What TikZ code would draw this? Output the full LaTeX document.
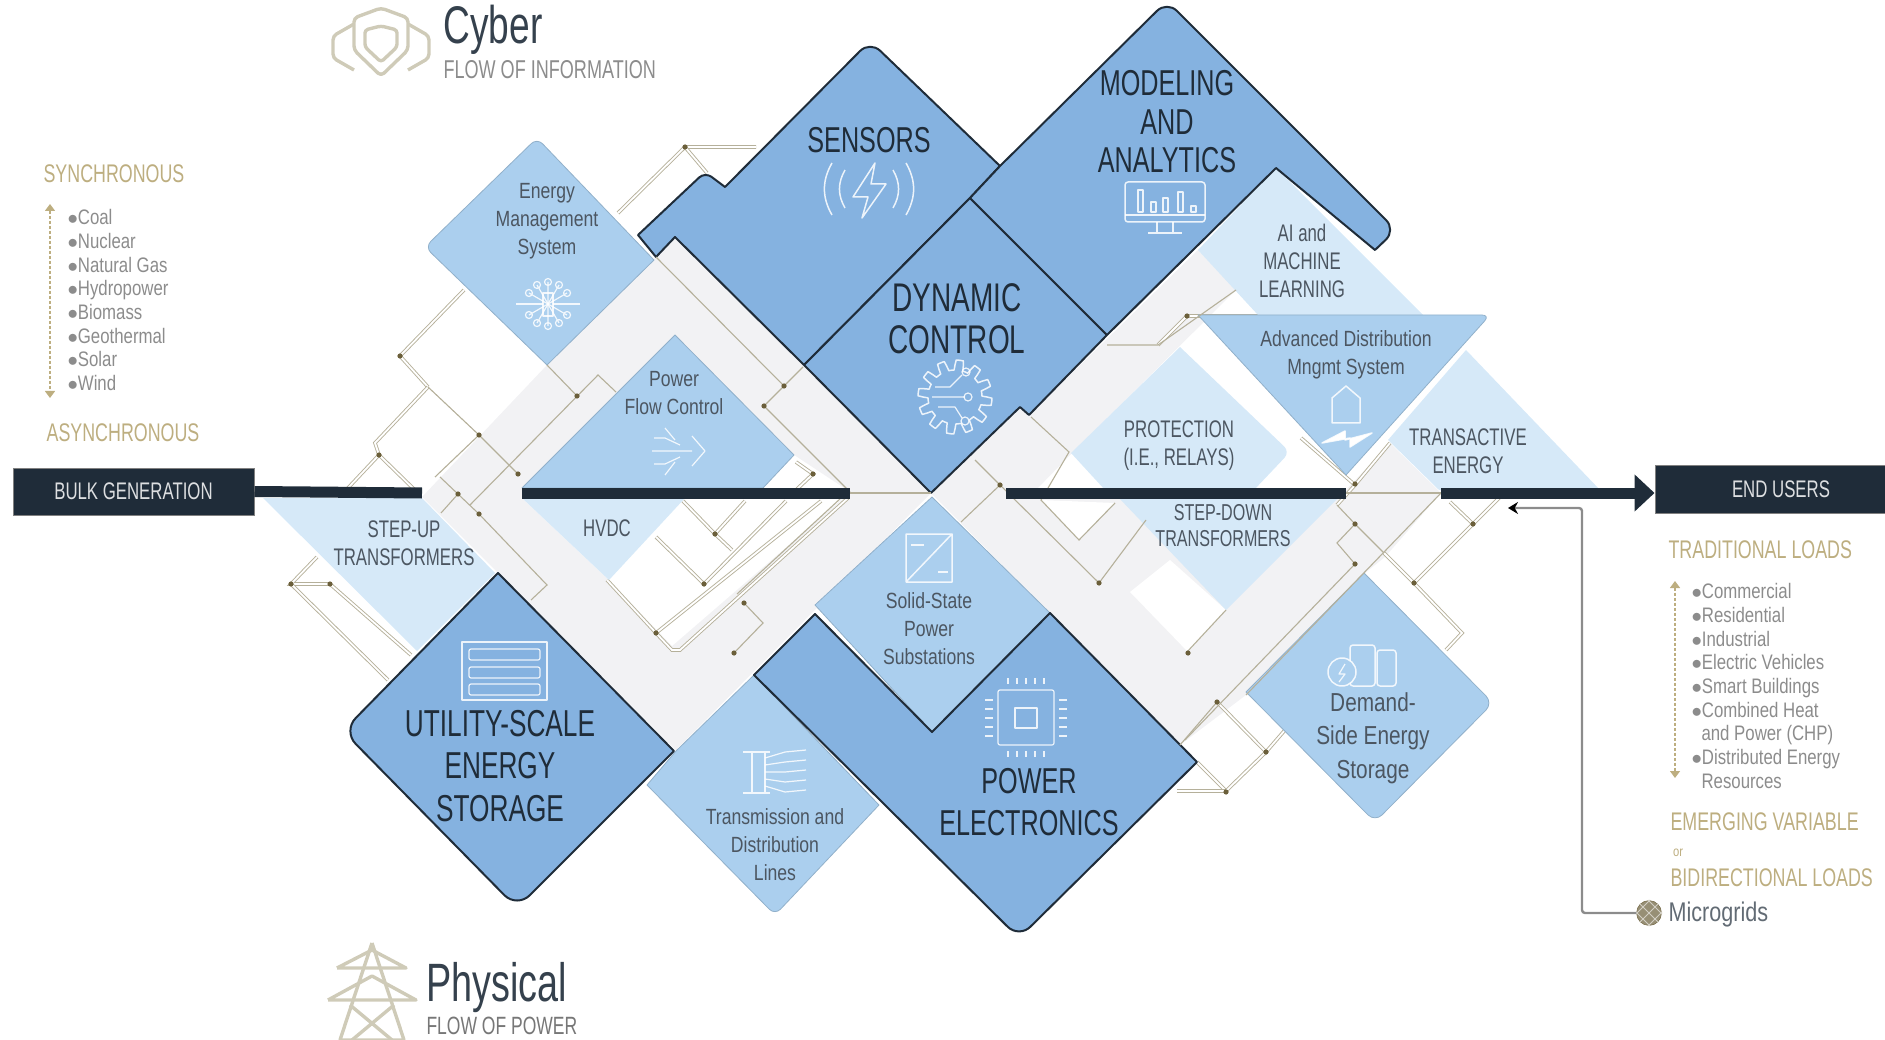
\documentclass[tikz,border=0pt]{standalone}
\usepackage{fontspec}
\setmainfont[FakeStretch=0.8]{Liberation Sans}
\newfontfamily\capfont[FakeStretch=0.7]{Liberation Sans}
\usetikzlibrary{arrows.meta}
\definecolor{boxdark}{HTML}{85B2E0}
\definecolor{boxmid}{HTML}{ABCFEE}
\definecolor{boxlight}{HTML}{D6E9F8}
\definecolor{band}{HTML}{F2F2F4}
\definecolor{navy}{HTML}{1F2C39}
\definecolor{wiretan}{HTML}{B5B09A}
\definecolor{dotbrown}{HTML}{6B5F3A}
\definecolor{goldtxt}{HTML}{BDAE80}
\definecolor{greytxt}{HTML}{8C8C8C}
\definecolor{icontan}{HTML}{CFCBB8}
\tikzset{
	darkbox/.style={fill=boxdark, draw=navy, line width=2, line join=round},
	midbox/.style={fill=boxmid, draw=boxmid!85!black, line width=.8, line join=round},
	lightbox/.style={fill=boxlight, draw=none},
	wire/.style={draw=wiretan, line width=1.1},
	wireout/.style={draw=wiretan, double=white, double distance=1.8, line width=.9},
	iconline/.style={draw=white, draw opacity=.85, line width=1.5, line join=round, fill=none},
	icontanline/.style={draw=icontan, line width=3.4, line join=round, fill=none},
	bigtxt/.style={text=navy, align=center, font=\capfont\fontsize{36}{42}\selectfont},
	midtxt/.style={text=navy!80, align=center, font=\fontsize{22}{28}\selectfont},
	captxt/.style={text=navy!80, align=center, font=\capfont\fontsize{24}{28}\selectfont},
	goldhead/.style={text=goldtxt, font=\capfont\fontsize{25.5}{30}\selectfont},
	listtxt/.style={text=greytxt, align=left, anchor=north west, font=\fontsize{21}{23.7}\selectfont},
	blackbox/.style={fill=navy, draw=gray, line width=1, text=white!85!navy, font=\capfont\fontsize{24}{28}\selectfont}
}
\begin{document}
\begin{tikzpicture}[x=1pt,y=-1pt]
	\useasboundingbox (0,0) rectangle (1885,1040);
	% grey bands
	\fill[band] (675,237) -- (931,493) -- (676,750) -- (498,573) -- (422,497) -- (547,365) -- (656,257) -- cycle;
	\fill[white] (675,335) -- (794,455) -- (850,492) -- (672,646) -- (609,580) -- (522,498) -- cycle;
	\fill[band] (931,493) -- (1020,407) -- (1029,415) -- (1198,250) -- (1236,290) -- (1072,453) -- (1036,490) -- (1346,490) -- (1390,443) -- (1441,493) -- (1385,557) -- (1365,573) -- (1246,695) -- (1180,745) -- (1050,613) -- cycle;
	\fill[white] (1041,500) -- (1115,503) -- (1079,540) -- cycle;
	\fill[white] (1170,560) -- (1226,610) -- (1188,652) -- (1130,592) -- cycle;
	% double wires outside the bands
	\draw[wireout] (464,290) -- (400,356) -- (428,387);
	\draw[wireout] (428,387) -- (375,443) -- (379,455) -- (348,488);
	\draw[wireout] (379,455) -- (420,495);
	\draw[wireout] (317,557) -- (291,584) -- (330,584) -- (411,655);
	\draw[wireout] (291,584) -- (388,680);
	\draw[wireout] (618,213) -- (685,147) -- (756,147);
	\draw[wireout] (685,147) -- (707,173);
	\draw[wireout] (683,501) -- (715,534) -- (745,501);
	\draw[wireout] (715,534) -- (732,550);
	\draw[wireout] (656,537) -- (704,584) -- (786,501);
	\draw[wireout] (607,580) -- (656,633) -- (821,501);
	\draw[wireout] (656,633) -- (672,650) -- (680,650) -- (848,498);
	\draw[wireout] (796,462) -- (813,474) -- (796,490);
	\draw[wireout] (1158,345) -- (1187,316) -- (1258,316);
	\draw[wireout] (1355,485) -- (1390,443);
	\draw[wireout] (1337,505) -- (1355,485) -- (1301,438);
	\draw[wireout] (1384,553) -- (1414,583) -- (1462,633) -- (1446,650);
	\draw[wireout] (1414,583) -- (1473,524) -- (1500,497);
	\draw[wireout] (1473,524) -- (1450,502);
	\draw[wireout] (1217,702) -- (1266,752) -- (1285,730);
	\draw[wireout] (1266,752) -- (1226,791) -- (1197,762);
	\draw[wireout] (1226,791) -- (1177,791);
	% pale shapes
	\fill[lightbox] (1276,168) -- (1423,315) -- (1258,315) -- (1198,250) -- cycle;
	\fill[lightbox] (1466,350) -- (1600,490) -- (1439,490) -- (1388,440) -- cycle;
	\fill[lightbox] (1180,347) [rounded corners=8] -- (1290,452) [sharp corners] -- (1254,490) -- (1105,490) -- (1071,453) -- cycle;
	\fill[lightbox] (1119,498) -- (1338,498) -- (1226,610) -- cycle;
	\fill[lightbox] (522,498) -- (685,498) -- (609,580) -- cycle;
	\fill[lightbox] (263,498) -- (422,498) -- (495,573) -- (417,651) -- cycle;
	% middle shapes
	\draw[midbox] (654,260) -- (547,365) [rounded corners=8] -- (425,247) -- (537,138) [sharp corners] -- cycle;
	\draw[midbox] (675,335) -- (794,455) -- (763,488) -- (522,488) -- cycle;
	\draw[midbox] (932,497) -- (1050,613) -- (932,732) -- (815,605) -- cycle;
	\draw[midbox] (754,675) -- (879,805) [rounded corners=8] -- (775,915) [sharp corners] -- (647,785) -- (676,751) -- cycle;
	\draw[midbox] (1364,573) [rounded corners=10] -- (1493,703) -- (1375,822) [sharp corners] -- (1246,692) -- cycle;
	\draw[midbox] (1198,315) [rounded corners=8] -- (1490,315) [sharp corners] -- (1346,475) -- cycle;
	% dark shapes
	\draw[darkbox] (1000,166) -- (970,198) -- (804,365) -- (675,237) -- (656,257) -- (638,235) [rounded corners=8] -- (705,172) [sharp corners] -- (725,187) [rounded corners=14] -- (870,41) [sharp corners] -- cycle;
	\draw[darkbox] (970,198) -- (1107,335) -- (1029,415) -- (1020,407) -- (931,493) -- (804,365) -- cycle;
	\draw[darkbox] (970,198) -- (1000,166) [rounded corners=14] -- (1167,1) -- (1396,230) [sharp corners] -- (1375,250) -- (1276,168) -- (1107,335) -- cycle;
	\draw[darkbox] (498,573) -- (674,751) [rounded corners=18] -- (517,908) -- (343,731) [sharp corners] -- cycle;
	\draw[darkbox] (754,675) -- (815,614) -- (932,732) -- (1050,613) -- (1197,762) [rounded corners=16] -- (1019,938) [sharp corners] -- cycle;
	% thin wires on the bands
	\draw[wire] (547,365) -- (577,396);
	\draw[wire] (479,435) -- (518,474);
	\draw[wire] (479,435) -- (435,477);
	\draw[wire] (428,387) -- (479,435);
	\draw[wire] (616,392) -- (598,375) -- (470,505);
	\draw[wire] (440,477) -- (479,514) -- (547,585) -- (531,600);
	\draw[wire] (458,494) -- (441,513);
	\draw[wire] (656,257) -- (784,386) -- (803,367);
	\draw[wire] (784,386) -- (764,406) -- (850,492);
	\draw[wire] (850,493) -- (931,493);
	\draw[wire] (841,498) -- (737,594);
	\draw[wire] (744,603) -- (763,623) -- (734,653);
	\draw[wire] (961,522) -- (1000,485) -- (975,460);
	\draw[wire] (1000,485) -- (1099,583) -- (1146,520);
	\draw[wire] (1031,417) -- (1069,452) -- (1041,500) -- (1079,540) -- (1115,503);
	\draw[wire] (1107,345) -- (1158,345) -- (1236,290);
	\draw[wire] (1187,652) -- (1226,610);
	\draw[wire] (1346,493) -- (1441,493);
	\draw[wire] (1337,505) -- (1355,524) -- (1384,553);
	\draw[wire] (1355,524) -- (1337,543) -- (1355,564) -- (1185,740);
	\draw[wire] (1217,702) -- (1180,745);
	\draw[wire] (1441,493) -- (1246,695);
	% power flow bar
	\node[blackbox, minimum width=241, minimum height=47] (bulk) at (133.5,491.5) {BULK GENERATION};
	\node[blackbox, minimum width=252, minimum height=48] (endusers) at (1781,489) {END USERS};
	\coordinate (barone) at (422,493);
	\coordinate (bartwo) at (522,493);
	\coordinate (barthree) at (850,493);
	\coordinate (barfour) at (1006,493);
	\coordinate (barfive) at (1346,493);
	\coordinate (barsix) at (1441,493);
	\draw[navy, line width=11] (bulk.east) -- (barone);
	\draw[navy, line width=11] (bartwo) -- (barthree);
	\draw[navy, line width=11] (barfour) -- (barfive);
	\draw[navy, line width=11, -{Triangle[length=20,width=36]}] (barsix) -- (endusers.west |- barsix);
	% dots
	\foreach \x/\y in {400/356,479/435,577/396,518/474,458/494,479/514,379/455,685/147,784/386,764/406,813/474,1000/485,1187/316,291/584,330/584,715/534,704/584,744/603,734/653,656/633,1099/583,1188/653,1355/524,1355/564,1355/484,1473/524,1414/583,1217/702,1266/752,1226/792}
		\fill[dotbrown] (\x,\y) circle (2.6);
	% labels in the boxes
	\node[midtxt] (ems) at (547,221) {Energy\\Management\\System};
	\node[midtxt] (flowctrl) at (674,393) {Power\\Flow Control};
	\node[bigtxt] (sensors) at (869,140) {SENSORS};
	\node[bigtxt, font=\capfont\fontsize{36}{38.5}\selectfont] (modeling) at (1167,122) {MODELING\\AND\\ANALYTICS};
	\node[bigtxt, font=\capfont\fontsize{40}{42}\selectfont] (dynamic) at (957,319) {DYNAMIC\\CONTROL};
	\node[midtxt, font=\capfont\fontsize{24}{28}\selectfont] (aiml) at (1302,261) {AI and\\MACHINE\\LEARNING};
	\node[midtxt] (adms) at (1346,354.5) {Advanced Distribution\\Mngmt System};
	\node[captxt] (protect) at (1179,446) {PROTECTION\\(I.E., RELAYS)};
	\node[captxt] (transact) at (1468,451) {TRANSACTIVE\\ENERGY};
	\node[captxt, font=\capfont\fontsize{23}{26}\selectfont] (stepdown) at (1223,526) {STEP-DOWN\\TRANSFORMERS};
	\node[midtxt] (solid) at (929,629) {Solid-State\\Power\\Substations};
	\node[captxt] (stepup) at (404,543) {STEP-UP\\TRANSFORMERS};
	\node[captxt] (hvdc) at (607,528) {HVDC};
	\node[bigtxt, font=\capfont\fontsize{37.5}{42.5}\selectfont] (utility) at (500,766) {UTILITY-SCALE\\ENERGY\\STORAGE};
	\node[midtxt] (lines) at (775,845) {Transmission and\\Distribution\\Lines};
	\node[bigtxt] (powerel) at (1029,802) {POWER\\ELECTRONICS};
	\node[midtxt, font=\fontsize{26}{33.5}\selectfont] (demand) at (1373,738) {Demand-\\Side Energy\\Storage};
	% titles
	\node[anchor=west, text=navy!90, font=\capfont\fontsize{53}{56}\selectfont] (cyber) at (440,30) {Cyber};
	\node[anchor=west, text=greytxt, font=\capfont\fontsize{25.8}{30}\selectfont] (flowinfo) at (440,70) {FLOW OF INFORMATION};
	\node[anchor=west, text=navy!90, font=\capfont\fontsize{54}{58}\selectfont] (physical) at (423,988) {Physical};
	\node[anchor=west, text=greytxt!85!black, font=\capfont\fontsize{25}{30}\selectfont] (flowpower) at (423,1026) {FLOW OF POWER};
	% left list
	\node[goldhead] (sync) at (114,174) {SYNCHRONOUS};
	\node[goldhead] (async) at (123,433) {ASYNCHRONOUS};
	\node[listtxt] (genlist) at (64,206) {$\bullet$Coal\\$\bullet$Nuclear\\$\bullet$Natural Gas\\$\bullet$Hydropower\\$\bullet$Biomass\\$\bullet$Geothermal\\$\bullet$Solar\\$\bullet$Wind};
	\coordinate (genup) at (50,204);
	\coordinate (gendown) at (50,398);
	\draw[goldtxt, densely dashed, line width=1.4, {Triangle[length=7,width=10]}-{Triangle[length=7,width=10]}] (genup) -- (gendown);
	% right list
	\node[goldhead, anchor=west] (tradloads) at (1665,550) {TRADITIONAL LOADS};
	\node[listtxt] (loadlist) at (1688,580) {$\bullet$Commercial\\$\bullet$Residential\\$\bullet$Industrial\\$\bullet$Electric Vehicles\\$\bullet$Smart Buildings\\$\bullet$Combined Heat\\\hspace*{10pt}and Power (CHP)\\$\bullet$Distributed Energy\\\hspace*{10pt}Resources};
	\coordinate (loadup) at (1675,581);
	\coordinate (loaddown) at (1675,778);
	\draw[goldtxt, densely dashed, line width=1.4, {Triangle[length=7,width=10]}-{Triangle[length=7,width=10]}] (loadup) -- (loaddown);
	\node[goldhead, anchor=west] (emerging) at (1667,822) {EMERGING VARIABLE};
	\node[text=goldtxt, font=\fontsize{14}{16}\selectfont] (ortxt) at (1678,853) {or};
	\node[goldhead, anchor=west] (bidir) at (1667,878) {BIDIRECTIONAL LOADS};
	\node[circle, fill=dotbrown!70, draw=dotbrown, minimum size=25, inner sep=0] (mgicon) at (1649,913) {};
	\draw[white!70!dotbrown, line width=1] (1640,904) -- (1658,922) (1636,912) -- (1650,926) (1648,900) -- (1662,914) (1640,922) -- (1658,904) (1636,914) -- (1650,900) (1648,926) -- (1662,912);
	\node[anchor=west, text=navy!70, font=\fontsize{27}{30}\selectfont] (mgtxt) at (1665,915) {Microgrids};
	\coordinate (mgcorner) at (1582,913);
	\coordinate (mgtop) at (1582,508);
	\coordinate (mgend) at (1508,508);
	\draw[greytxt, line width=2.4, -{Stealth[length=10,width=12,black]}, rounded corners=3] (mgicon.west) -- (mgcorner) -- (mgtop) -- (mgend);
	% icons
	\draw[icontanline, rounded corners=4] (381,8) -- (408,18) -- (408,50) -- (381,76) -- (354,50) -- (354,18) -- cycle;
	\draw[icontanline, rounded corners=3] (381,26) -- (397,30) -- (397,47) -- (381,62) -- (365,47) -- (365,30) -- cycle;
	\draw[icontanline, rounded corners=4] (354,24) -- (333,36) -- (333,58) -- (354,70);
	\draw[icontanline, rounded corners=4] (408,24) -- (429,36) -- (429,58) -- (408,70);
	\draw[icontanline] (372,943) -- (340,1040) (372,943) -- (404,1040) (340,1040) -- (404,1040);
	\draw[icontanline] (337,968) -- (372,950) -- (406,968) -- (337,968);
	\draw[icontanline] (328,1000) -- (372,976) -- (416,1000) -- (328,1000);
	\draw[icontanline] (350,1005) -- (392,1040) (394,1005) -- (352,1040);
	% sensors
	\draw[iconline] (875,163) -- (853,197) -- (868,197) -- (862,218) -- (886,184) -- (871,184) -- cycle;
	\draw[iconline] (845,170) to[bend right=30] (845,208);
	\draw[iconline] (832,163) to[bend right=30] (832,215);
	\draw[iconline] (893,170) to[bend left=30] (893,208);
	\draw[iconline] (906,163) to[bend left=30] (906,215);
	% monitor
	\draw[iconline, rounded corners=3] (1125,182) rectangle (1205,222);
	\draw[iconline] (1125,215) -- (1205,215) (1157,222) -- (1157,232) (1173,222) -- (1173,232) (1148,233) -- (1182,233);
	\foreach \x/\y in {1140/190,1153/202,1165/198,1180/192,1193/206}
		\draw[iconline, line width=1.2] (\x-2,\y) rectangle (\x+3,212);
	% gear
	\draw[iconline] plot[samples=193, domain=0:360] ({955+(32+5*sign(sin(12*\x)))*cos(\x)},{397+(32+5*sign(sin(12*\x)))*sin(\x)});
	\draw[iconline, line width=1.2] (932,397) -- (965,397) (935,387) -- (950,387) -- (962,375) (938,407) -- (955,407) -- (962,418);
	\draw[iconline, line width=1.2] (968,397) circle (4) (966,372) circle (4) (965,421) circle (4);
	% chip
	\draw[iconline, line width=1.2, rounded corners=2] (998,690) rectangle (1054,745);
	\draw[iconline, line width=1.2] (1015,708) rectangle (1037,728);
	\foreach \t in {0,...,4} {
		\draw[iconline, line width=1.2] (1008+\t*9,678) -- (1008+\t*9,684) (1008+\t*9,751) -- (1008+\t*9,757);
		\draw[iconline, line width=1.2] (985,700+\t*9) -- (993,700+\t*9) (1059,700+\t*9) -- (1067,700+\t*9);
	}
	% storage racks
	\draw[iconline] (462,642) rectangle (547,700);
	\foreach \y in {649,667,684}
		\draw[iconline, line width=1.2, rounded corners=2] (469,\y) rectangle (540,\y+11);
	% lines
	\draw[iconline, line width=1.2] (743,752) -- (770,752) (743,793) -- (770,793) (752,752) -- (752,793) (765,752) -- (765,793);
	\foreach \t in {0,...,4}
		\draw[iconline, line width=1.2] (765,758+\t*7) -- (785,752+\t*10) -- (806,750+\t*10);
	% converter
	\draw[iconline] (906,534) rectangle (952,582) (906,582) -- (952,534);
	\draw[iconline, line width=1.2] (911,545) -- (924,545) (938,572) -- (948,572);
	% flow control
	\draw[iconline, line width=1.2] (652,451) -- (692,451) (692,436) -- (705,451) -- (692,466);
	\draw[iconline, line width=1.2] (654,438) -- (665,438) -- (680,445) (654,464) -- (665,464) -- (680,457) (665,428) -- (675,440) (665,475) -- (675,462);
	% ems
	\draw[iconline, line width=1.2] (543,293) rectangle (553,316);
	\foreach \a in {-150,-120,...,-30,30,60,...,150}
		\draw[iconline, line width=1.2] (548,304) -- ++(\a:22) circle (3.5);
	\draw[iconline, line width=1.2] (516,304) -- (543,304) (553,304) -- (580,304);
	% house and bolt
	\draw[iconline] (1332,423) -- (1332,398) -- (1346,386) -- (1360,398) -- (1360,423) -- cycle;
	\draw[iconline, fill=white] (1322,443) -- (1345,431) -- (1345,440) -- (1372,433) -- (1350,447) -- (1350,438) -- cycle;
	% batteries
	\draw[iconline, rounded corners=3] (1350,645) rectangle (1375,686) (1377,650) rectangle (1396,686);
	\draw[iconline, fill=boxmid] (1342,672) circle (14);
	\draw[iconline, line width=1.2] (1345,664) -- (1339,674) -- (1345,674) -- (1339,682);
\end{tikzpicture}
\end{document}
